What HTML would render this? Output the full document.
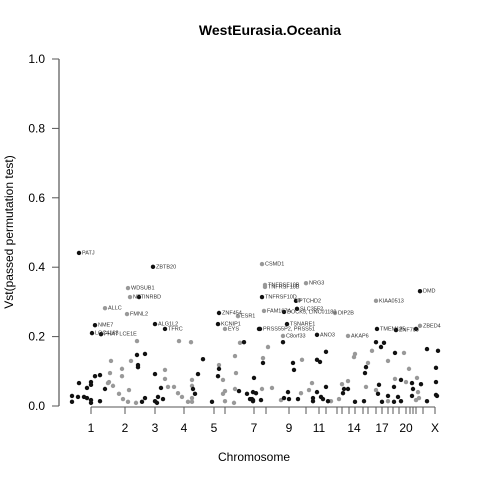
<!DOCTYPE html>
<html><head><meta charset="utf-8"><style>
html,body{margin:0;padding:0;background:#fff;}
svg{display:block;font-family:"Liberation Sans",sans-serif;}
</style></head><body>
<svg id="chart" width="480" height="480" viewBox="0 0 480 480">
<text x="270" y="35" text-anchor="middle" font-size="14" font-weight="bold">WestEurasia.Oceania</text>
<text transform="translate(13,232) rotate(-90)" text-anchor="middle" font-size="12">Vst(passed permutation test)</text>
<text x="254" y="461" text-anchor="middle" font-size="12">Chromosome</text>
<g id="yaxis"></g>
<g id="xaxis"></g>
<g id="pts"></g>
<g id="lbls"></g>
</svg>
<script>
const yTicks=[0,0.2,0.4,0.6,0.8,1.0];
const yTickLabels=["0.0","0.2","0.4","0.6","0.8","1.0"];
const chromTicks=[31,65,95,124,154,165,194,206,229,246,259,266,277,282,289,295,303,308,316,322,328,333,339,346,350,353,356,363,375];
const chromLabelPos=[31,65,95,124,154,194,229,259,294,322,346,375];
const chromLabels=["1","2","3","4","5","7","9","11","14","17","20","X"];
// labeled SNPs
const posLab=[19,93,68,70,79,45,67,35,32,41,95,105,159,158,165,178,202,205,205,246,202,236,239,237,204,224,275,200,223,257,288,316,360,317,336,356,360,227];
const vstLab=[.441,.401,.340,.314,.314,.282,.265,.233,.210,.207,.236,.222,.268,.236,.222,.259,.409,.349,.343,.354,.314,.303,.305,.280,.274,.271,.268,.222,.202,.205,.202,.303,.331,.222,.219,.222,.231,.236];
const colLab=[0,0,1,1,0,1,1,0,0,0,0,0,0,0,1,1,1,1,1,1,0,0,1,0,1,0,1,0,1,0,1,1,0,0,0,0,1,0];
const labelText=["PATJ","ZBTB20","WDSUB1","NETINRBD","","ALLC","FMNL2","NME7","LOC4163","FHAT LCE1E","ALG1L2","TFRC","ZNF454","KCNIP1","EYS","ESR1","CSMD1","TNFRSF10B","TNFRSF10B","NRG3","TNFRSF10D","PTCHD2","","SLC35F2","FAM167A","DOCK5, LINC01180","DIP2B","PRSS55P2, PRSS51","C8orf33","ANO3","AKAP6","KIAA0513","DMD","TMEM185","ZNF700","","ZBED4","TSNARE1"];
// unlabeled black SNPs
const posBlack=[35,40,31,31,27,19,12,12,18,24,27,31,31,40,45,82,85,95,101,98,95,97,103,152,138,158,135,133,179,187,190,193,194,77,85,78,78,143,159,184,199,
 193,196,192,193,201,203,223,233,234,228,224,229,238,257,260,266,266,257,253,261,263,253,268,284,288,283,305,306,295,304,316,321,324,319,318,328,322,335,334,341,338,334,341,352,353,352,361,367,367,378,376,376,376,377];
const vstBlack=[.086,.089,.069,.061,.052,.066,.029,.012,.026,.026,.023,.017,.009,.014,.049,.012,.023,.092,.052,.026,.014,.009,.020,.012,.092,.086,.035,.049,.043,.035,.020,.017,.081,.147,.150,.118,.112,.135,.107,.184,.222,
 .040,.037,.020,.014,.017,.124,.184,.124,.104,.040,.023,.020,.020,.133,.127,.156,.055,.040,.023,.026,.020,.014,.014,.049,.049,.037,.095,.112,.012,.014,.184,.170,.182,.061,.035,.029,.012,.153,.055,.075,.026,.012,.014,.066,.049,.029,.063,.164,.014,.159,.110,.069,.032,.029];
// unlabeled gray SNPs
const posGray=[50,48,53,62,69,59,63,68,76,105,108,114,118,122,128,132,132,132,132,105,163,165,163,165,174,176,175,77,51,71,62,49,175,159,180,131,119,
 208,203,202,212,221,242,252,249,241,271,279,282,288,295,294,308,306,312,328,335,344,349,346,357,358,359,356,316,328];
const vstGray=[.095,.066,.058,.086,.046,.035,.020,.012,.009,.078,.055,.055,.037,.026,.012,.075,.058,.023,.012,.104,.075,.043,.035,.014,.009,.095,.049,.187,.130,.130,.107,.069,.144,.118,.182,.184,.187,
 .170,.138,.049,.052,.017,.133,.066,.046,.037,.014,.020,.063,.072,.150,.141,.124,.055,.159,.130,.078,.153,.107,.069,.081,.040,.023,.017,.046,.014];

const X0=60,Y0=406,YH=347;
const sx=p=>X0+p;
const sy=v=>Y0-v*YH;
const NS="http://www.w3.org/2000/svg";
function mk(tag,attrs,parent){const e=document.createElementNS(NS,tag);for(const k in attrs)e.setAttribute(k,attrs[k]);parent.appendChild(e);return e;}
const ya=document.getElementById('yaxis');
const yl=mk('line',{x1:59,x2:59,y1:sy(1),y2:sy(0),stroke:'#777','stroke-width':1.5},ya);


yTicks.forEach((t,i)=>{
 const tk=mk('line',{x1:52,x2:59,y1:sy(t),y2:sy(t),stroke:'#555'},ya);
 
 
 const tx=mk('text',{x:45,y:sy(t)+4,'text-anchor':'end','font-size':12},ya);
 tx.textContent=yTickLabels[i];
 
 
});
const xa=document.getElementById('xaxis');
const xl=mk('line',{x1:sx(chromTicks[0]),x2:sx(chromTicks[chromTicks.length-1]),y1:407,y2:407,stroke:'#555'},xa);


chromTicks.forEach(t=>{
 const tk=mk('line',{x1:sx(t),x2:sx(t),y1:407,y2:414,stroke:'#555'},xa);
 
 
});
chromLabelPos.forEach((p,i)=>{
 const tx=mk('text',{x:sx(p),y:432,'text-anchor':'middle','font-size':12},xa);
 tx.textContent=chromLabels[i];
 
 
});
const pg=document.getElementById('pts');
function dot(p,v,gray){
 const c=mk('circle',{cx:sx(p),cy:sy(v),r:2.2,fill:gray?'#999':'#111'},pg);
 
 
}
posGray.forEach((p,i)=>dot(p,vstGray[i],1));
posBlack.forEach((p,i)=>dot(p,vstBlack[i],0));
posLab.forEach((p,i)=>dot(p,vstLab[i],colLab[i]));
const lg=document.getElementById('lbls');
posLab.forEach((p,i)=>{
 if(!labelText[i])return;
 const tx=mk('text',{x:sx(p)+3,y:sy(vstLab[i])+1.5,'font-size':5.5,fill:'#333'},lg);
 tx.textContent=labelText[i];
 
 
});
</script>
</body></html>
